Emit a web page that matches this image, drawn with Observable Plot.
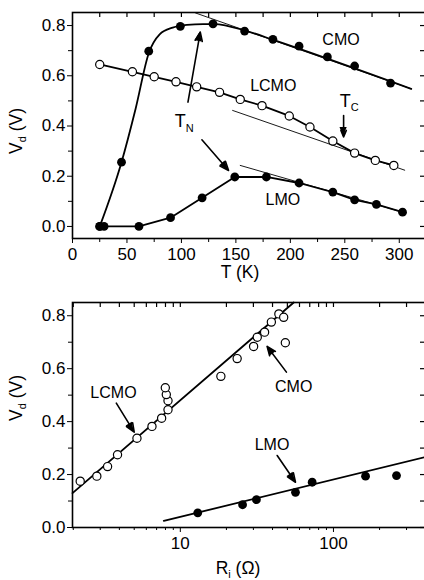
<!DOCTYPE html>
<html><head><meta charset="utf-8">
<script src="https://cdn.jsdelivr.net/npm/d3@7"></script>
<script src="https://cdn.jsdelivr.net/npm/@observablehq/plot@0.6"></script>
<style>
html,body{margin:0;padding:0;background:#fff;}
body{width:424px;height:580px;overflow:hidden;}
#chart svg{display:block;}
</style></head><body><div id="chart"></div>
<script>
// ---------- Top panel: V_d vs T ----------
const cmoT  = [25, 45, 70, 99, 129, 158, 184, 208, 234, 259, 292];
const cmoV  = [0, 0.256, 0.698, 0.797, 0.807, 0.778, 0.745, 0.718, 0.675, 0.639, 0.571];
const lcmoT = [25, 55, 75, 95, 114, 135, 154, 174, 199, 218, 239, 259, 278, 295];
const lcmoV = [0.645, 0.616, 0.596, 0.576, 0.556, 0.534, 0.506, 0.481, 0.440, 0.396, 0.340, 0.292, 0.263, 0.243];
const lmoT  = [25, 29, 61, 90, 119, 149, 178, 208, 239, 259, 279, 303];
const lmoV  = [0, 0, 0, 0.035, 0.114, 0.197, 0.197, 0.173, 0.137, 0.106, 0.088, 0.057];
// smooth CMO curve as drawn
const cmoCurveT = [25, 45, 58, 70, 80, 92, 105, 120, 130, 160, 185, 311];
const cmoCurveV = [0, 0.256, 0.47, 0.69, 0.765, 0.792, 0.803, 0.806, 0.806, 0.778, 0.742, 0.548];
// thin guide lines (high-T linear extrapolations)
const cmoGuideT  = [113, 311],  cmoGuideV  = [0.85, 0.548];
const lcmoGuideT = [147, 305],  lcmoGuideV = [0.462, 0.224];
const lmoGuideT  = [154, 303],  lmoGuideV  = [0.243, 0.057];
// ticks
const tMajor = [0, 50, 100, 150, 200, 250, 300];
const tMinor = [25, 75, 125, 175, 225, 275];
const tAll   = [25, 50, 75, 100, 125, 150, 175, 200, 225, 250, 275, 300];
const vMajor = [0, 0.2, 0.4, 0.6, 0.8];
const vMinor = [0.1, 0.3, 0.5, 0.7];
const vAll   = [0, 0.1, 0.2, 0.3, 0.4, 0.5, 0.6, 0.7, 0.8];
// annotations (top)
const topLabels  = ["CMO", "LCMO", "LMO"];
const topLabelT  = [246.5, 184.3, 193.2];
const topLabelV  = [0.744, 0.558, 0.104];
const topArrowT1 = [106, 118.8, 248.9];
const topArrowV1 = [0.495, 0.345, 0.442];
const topArrowT2 = [117.3, 143.3, 248.9];
const topArrowV2 = [0.774, 0.223, 0.356];

// ---------- Bottom panel: V_d vs R_i ----------
const lcmoR  = [2.22, 2.85, 3.35, 3.89, 5.21, 6.53, 7.55, 8.31, 8.31, 8.1, 7.98];
const lcmoV2 = [0.175, 0.194, 0.230, 0.275, 0.337, 0.382, 0.413, 0.445, 0.479, 0.502, 0.528];
const cmoR   = [18.4, 23.5, 30.1, 31.8, 35.5, 39.3, 44.0, 47.3, 48.5];
const cmoV2  = [0.571, 0.638, 0.684, 0.719, 0.738, 0.776, 0.807, 0.794, 0.698];
const lmoR   = [13.0, 25.5, 31.4, 56.5, 72.6, 162, 258];
const lmoV2  = [0.0555, 0.086, 0.105, 0.133, 0.171, 0.194, 0.196];
const fitAR = [1.977, 55.0], fitAV = [0.13, 0.85];
const fitBR = [7.8, 405],    fitBV = [0.025, 0.267];
const rMajor = [10, 100];
const rMinor = [2,3,4,5,6,7,8,9,20,30,40,50,60,70,80,90,200,300,400];
const rAll   = rMinor.concat(rMajor);
const botLabels  = ["LCMO", "CMO", "LMO"];
const botLabelR  = [3.66, 55.0, 39.7];
const botLabelV  = [0.507, 0.530, 0.314];
const botArrowR1 = [3.82, 49.3, 42.9];
const botArrowV1 = [0.470, 0.587, 0.272];
const botArrowR2 = [5.0, 36.9, 56.5];
const botArrowV2 = [0.360, 0.684, 0.171];

const font = "'Liberation Sans', Arial, Helvetica, sans-serif";
const zip = (xs, ys) => xs.map((x, i) => ({x, y: ys[i]}));
const W = 424, H = 290, ML = 72, MR = -2, MT = 12;

function frameTicks(xTicks, yTicks, fw, fh) {
  return [
    Plot.tickX(xTicks, {x: d => d, insetBottom: fh - 5, strokeWidth: 1.2}),
    Plot.tickY(yTicks, {y: d => d, insetLeft: fw - 6, strokeWidth: 1.2})
  ];
}

function subText(svg, x, y, main, sub, rest, size, subSize, subDy, rotate, anchor) {
  const t = d3.select(svg).append("text")
    .attr("font-family", font).attr("font-size", size).attr("fill", "black")
    .attr("text-anchor", anchor || "middle")
    .attr("transform", `translate(${x},${y})` + (rotate ? " rotate(-90)" : ""));
  t.append("tspan").text(main);
  t.append("tspan").attr("font-size", subSize).attr("dy", subDy).text(sub);
  if (rest) t.append("tspan").attr("dy", -subDy).text(rest);
}

// filled arrow heads drawn over Plot.arrow heads, positioned through the plot's scales
function fillHeads(svg, x1s, y1s, x2s, y2s) {
  const sx = svg.scale("x"), sy = svg.scale("y");
  const g = d3.select(svg).append("g").attr("fill", "black");
  x1s.forEach((_, i) => {
    const ax = sx.apply(x1s[i]), ay = sy.apply(y1s[i]);
    const bx = sx.apply(x2s[i]), by = sy.apply(y2s[i]);
    const a = Math.atan2(by - ay, bx - ax), L = 9.5, w = 3.6;
    const cx = bx - L * Math.cos(a), cy = by - L * Math.sin(a);
    const px = -Math.sin(a) * w, py = Math.cos(a) * w;
    g.append("path").attr("d", `M${bx},${by}L${cx + px},${cy + py}L${cx - px},${cy - py}Z`);
  });
}

// ----- top plot -----
const MB1 = 52;
const fw = W - ML - MR, fh1 = H - MT - MB1;
const topPlot = Plot.plot({
  width: W, height: H, marginLeft: ML, marginRight: MR, marginTop: MT, marginBottom: MB1,
  style: {fontFamily: font, fontSize: "17px", background: "white", color: "black"},
  x: {domain: [0, 325]},
  y: {domain: [-0.048, 0.852]},
  marks: [
    Plot.frame({strokeWidth: 1.6}),
    Plot.axisX(tMajor, {anchor: "bottom", tickSize: 5, tickPadding: 4, label: null, fontSize: 17}),
    Plot.axisX(tMinor, {anchor: "bottom", tickSize: 4, tickFormat: () => "", label: null}),
    Plot.axisY(vMajor, {anchor: "left", tickSize: 5, tickPadding: 2, tickFormat: d3.format(".1f"), label: null, fontSize: 17}),
    Plot.axisY(vMinor, {anchor: "left", tickSize: 4, tickFormat: () => "", label: null}),
    ...frameTicks(tAll, vAll, fw, fh1),
    Plot.line(zip(cmoGuideT, cmoGuideV), {x: "x", y: "y", strokeWidth: 0.9}),
    Plot.line(zip(lcmoGuideT, lcmoGuideV), {x: "x", y: "y", strokeWidth: 0.9}),
    Plot.line(zip(lmoGuideT, lmoGuideV), {x: "x", y: "y", strokeWidth: 0.9}),
    Plot.line(zip(cmoCurveT, cmoCurveV), {x: "x", y: "y", curve: "monotone-x", strokeWidth: 1.8}),
    Plot.line(zip(lcmoT, lcmoV), {x: "x", y: "y", strokeWidth: 1.8}),
    Plot.line(zip(lmoT, lmoV), {x: "x", y: "y", strokeWidth: 1.8}),
    Plot.dot(zip(cmoT, cmoV), {x: "x", y: "y", r: 4.4, fill: "black", stroke: "none"}),
    Plot.dot(zip(lmoT, lmoV), {x: "x", y: "y", r: 4.4, fill: "black", stroke: "none"}),
    Plot.dot(zip(lcmoT, lcmoV), {x: "x", y: "y", r: 4.1, fill: "white", stroke: "black", strokeWidth: 1.2}),
    Plot.text(topLabels, {x: (d, i) => topLabelT[i], y: (d, i) => topLabelV[i], text: d => d, fontSize: 16}),
    Plot.arrow(topLabels, {x1: (d, i) => topArrowT1[i], y1: (d, i) => topArrowV1[i],
      x2: (d, i) => topArrowT2[i], y2: (d, i) => topArrowV2[i], headLength: 9, headAngle: 44, strokeWidth: 1.6})
  ]
});
{
  const sx = topPlot.scale("x"), sy = topPlot.scale("y");
  fillHeads(topPlot, topArrowT1, topArrowV1, topArrowT2, topArrowV2);
  subText(topPlot, sx.apply(94.3), sy.apply(0.394), "T", "N", "", 18, 11, 5, false, "start");
  subText(topPlot, sx.apply(245.8), sy.apply(0.474), "T", "C", "", 18, 11, 4, false, "start");
  subText(topPlot, 240, 278, "T (K)", "", "", 17.5, 11, 0, false);
  subText(topPlot, 22, 131, "V", "d", " (V)", 17.5, 11, 4, true);
}

// ----- bottom plot -----
const MB2 = 53;
const fh2 = H - MT - MB2;
const botPlot = Plot.plot({
  width: W, height: H, marginLeft: ML, marginRight: MR, marginTop: MT, marginBottom: MB2,
  style: {fontFamily: font, fontSize: "17px", background: "white", color: "black"},
  x: {type: "log", domain: [1.977, 405]},
  y: {domain: [0, 0.85]},
  marks: [
    Plot.frame({strokeWidth: 1.6}),
    Plot.axisX(rMajor, {anchor: "bottom", tickSize: 5, tickPadding: 4, label: null, tickFormat: d => String(d), fontSize: 17}),
    Plot.axisX(rMinor, {anchor: "bottom", tickSize: 3, tickFormat: () => "", label: null}),
    Plot.axisY(vMajor, {anchor: "left", tickSize: 5, tickPadding: 2, tickFormat: d3.format(".1f"), label: null, fontSize: 17}),
    Plot.axisY(vMinor, {anchor: "left", tickSize: 4, tickFormat: () => "", label: null}),
    ...frameTicks(rAll, vAll, fw, fh2),
    Plot.line(zip(fitAR, fitAV), {x: "x", y: "y", strokeWidth: 1.8}),
    Plot.line(zip(fitBR, fitBV), {x: "x", y: "y", strokeWidth: 1.8}),
    Plot.dot(zip(lcmoR, lcmoV2), {x: "x", y: "y", r: 4.1, fill: "white", stroke: "black", strokeWidth: 1.2}),
    Plot.dot(zip(cmoR, cmoV2), {x: "x", y: "y", r: 4.1, fill: "white", stroke: "black", strokeWidth: 1.2}),
    Plot.dot(zip(lmoR, lmoV2), {x: "x", y: "y", r: 4.4, fill: "black", stroke: "none"}),
    Plot.text(botLabels, {x: (d, i) => botLabelR[i], y: (d, i) => botLabelV[i], text: d => d, fontSize: 16}),
    Plot.arrow(botLabels, {x1: (d, i) => botArrowR1[i], y1: (d, i) => botArrowV1[i],
      x2: (d, i) => botArrowR2[i], y2: (d, i) => botArrowV2[i], headLength: 9, headAngle: 44, strokeWidth: 1.6})
  ]
});
{
  fillHeads(botPlot, botArrowR1, botArrowV1, botArrowR2, botArrowV2);
  subText(botPlot, 238, 284, "R", "i", " (Ω)", 17.5, 11, 4, false);
  subText(botPlot, 22, 108, "V", "d", " (V)", 17.5, 11, 4, true);
}

document.getElementById("chart").append(topPlot, botPlot);
</script></body></html>
